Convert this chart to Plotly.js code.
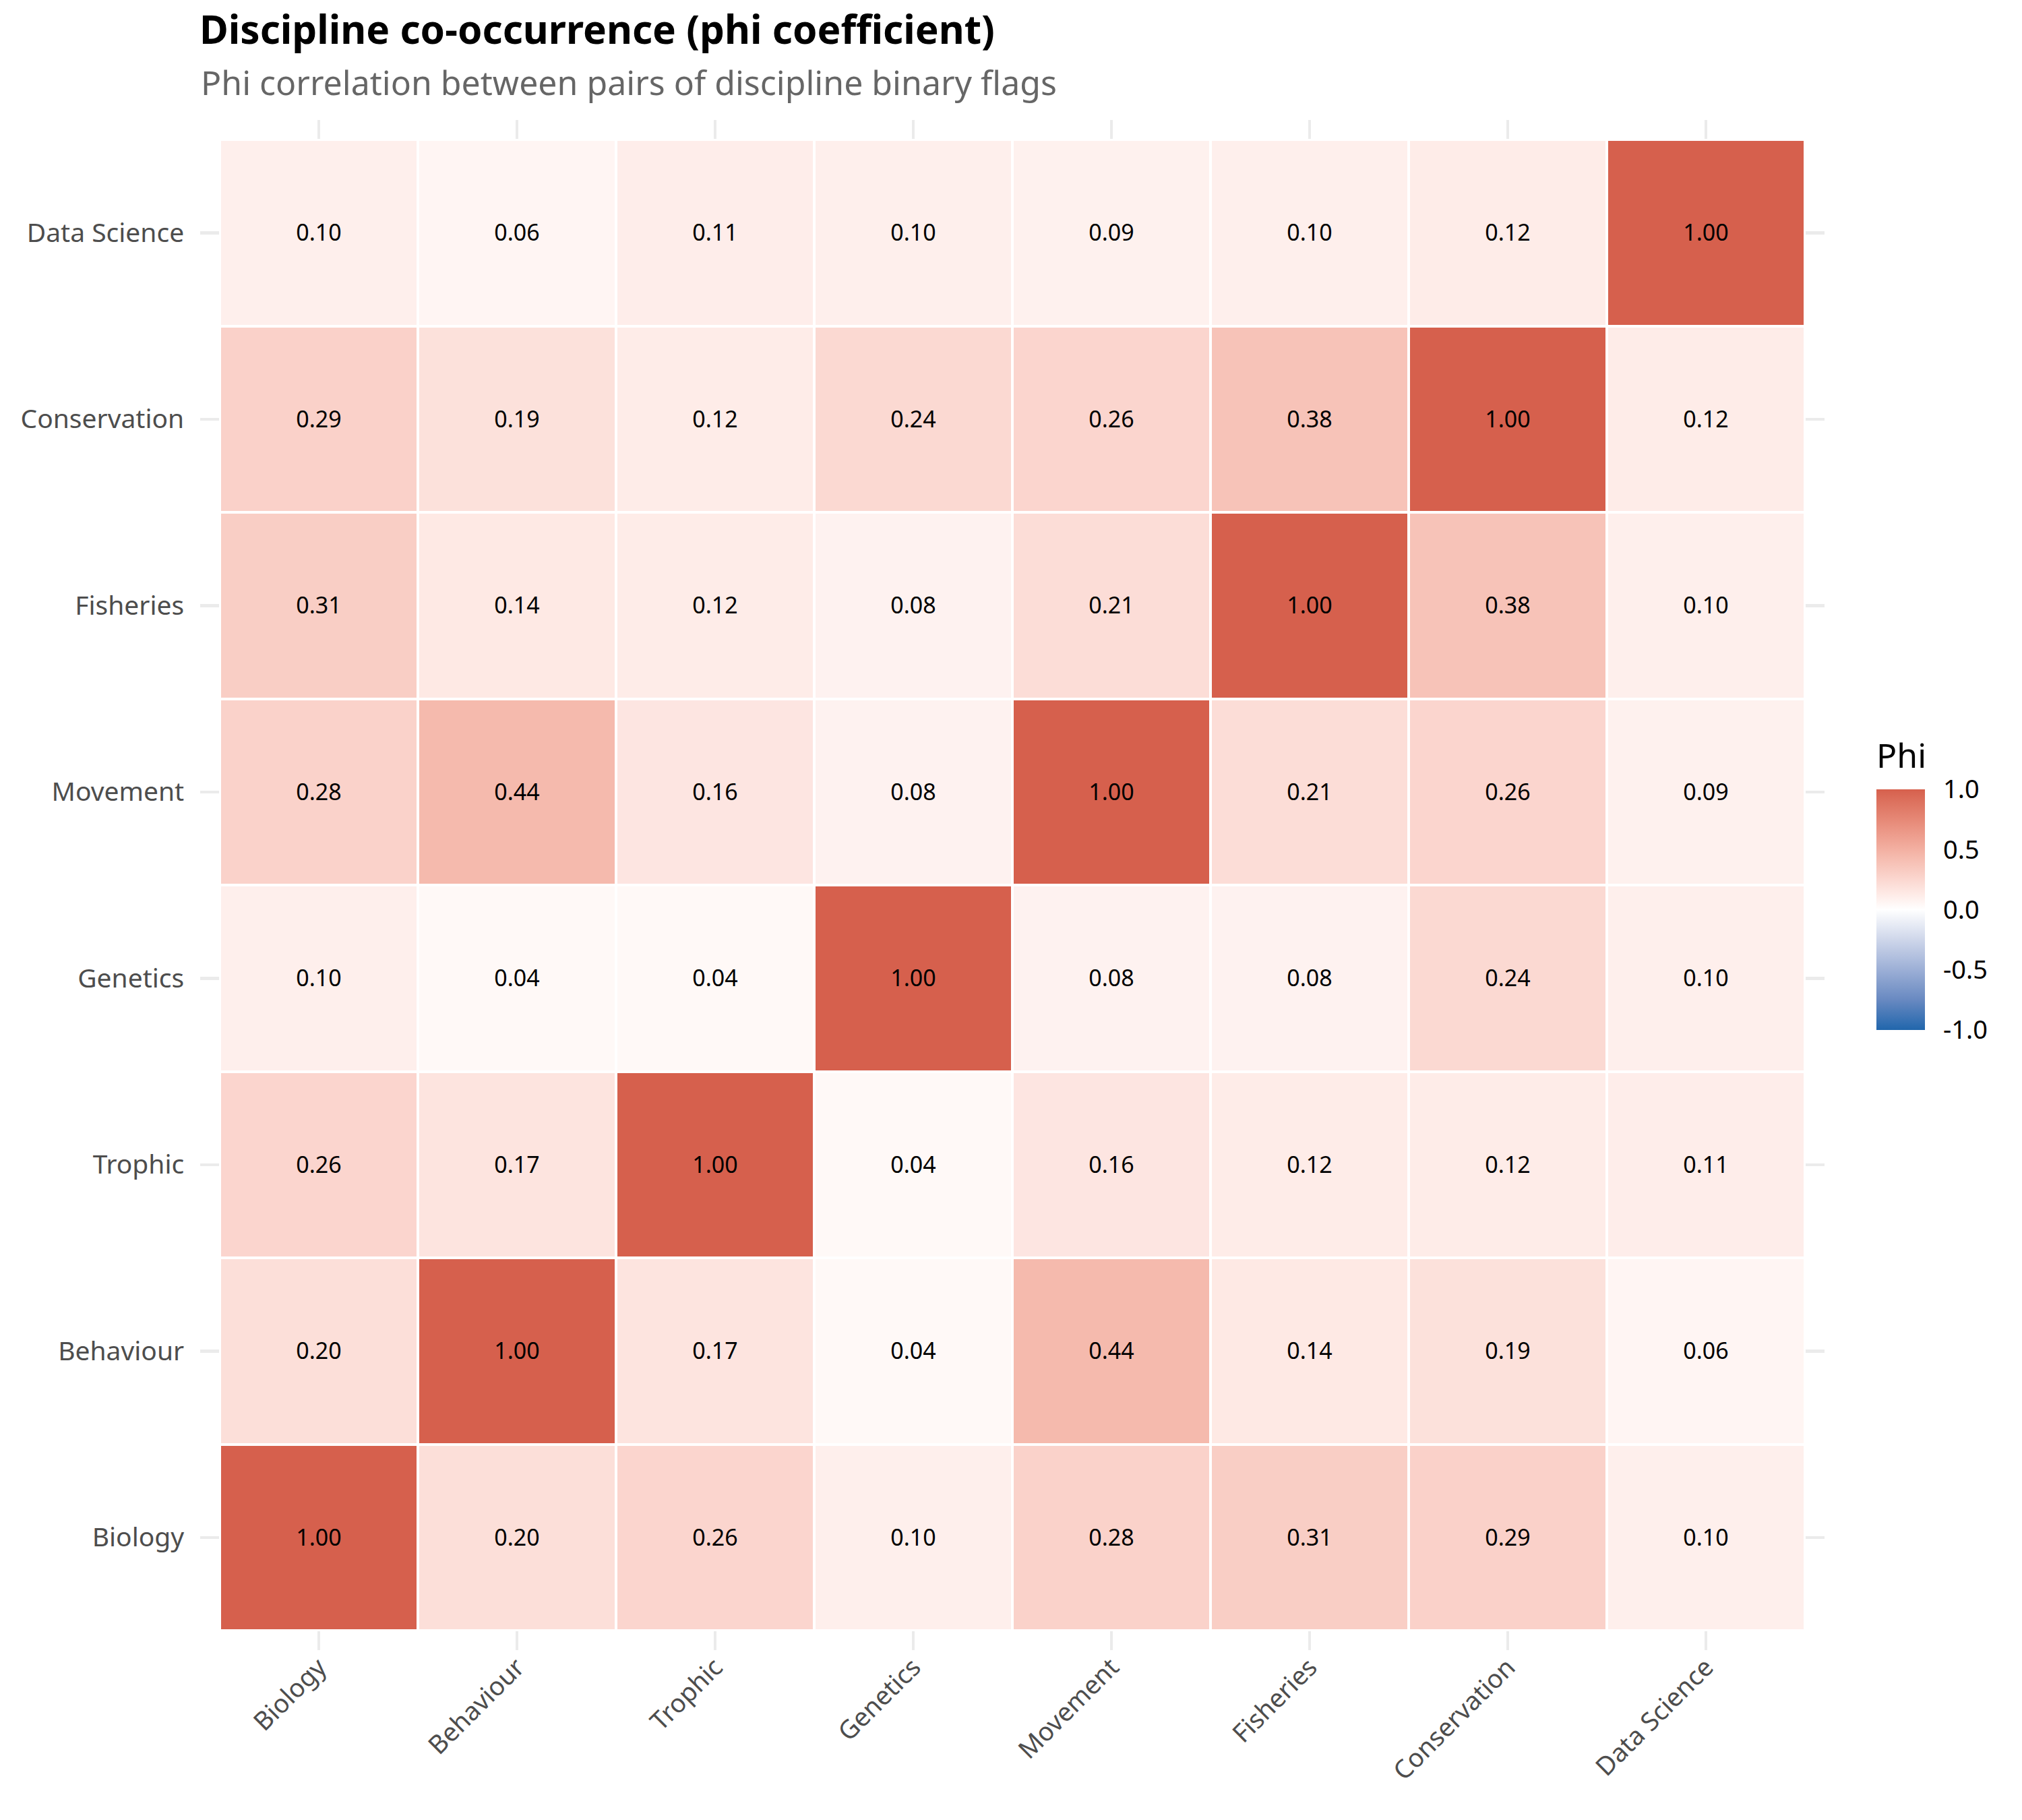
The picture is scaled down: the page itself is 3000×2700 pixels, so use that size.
<!DOCTYPE html>
<html>
<head>
<meta charset="utf-8">
<script src="https://cdn.plot.ly/plotly-3.0.1.min.js"></script>
<style>
  html, body { margin: 0; padding: 0; background: #ffffff; }
  #chart { width: 3000px; height: 2700px; }
</style>
</head>
<body>
<div id="chart"></div>
<script>
// Disciplines (x from left to right, y from bottom to top)
const disciplines = ["Biology", "Behaviour", "Trophic", "Genetics", "Movement", "Fisheries", "Conservation", "Data Science"];

// Phi values, one row per discipline (columns in the same order as disciplines)
const rowBiology      = [1.00, 0.20, 0.26, 0.10, 0.28, 0.31, 0.29, 0.10];
const rowBehaviour    = [0.20, 1.00, 0.17, 0.04, 0.44, 0.14, 0.19, 0.06];
const rowTrophic      = [0.26, 0.17, 1.00, 0.04, 0.16, 0.12, 0.12, 0.11];
const rowGenetics     = [0.10, 0.04, 0.04, 1.00, 0.08, 0.08, 0.24, 0.10];
const rowMovement     = [0.28, 0.44, 0.16, 0.08, 1.00, 0.21, 0.26, 0.09];
const rowFisheries    = [0.31, 0.14, 0.12, 0.08, 0.21, 1.00, 0.38, 0.10];
const rowConservation = [0.29, 0.19, 0.12, 0.24, 0.26, 0.38, 1.00, 0.12];
const rowDataScience  = [0.10, 0.06, 0.11, 0.10, 0.09, 0.10, 0.12, 1.00];

const legendTickVals = [-1, -0.5, 0, 0.5, 1];
const legendTickText = ["-1.0", "-0.5", "0.0", "0.5", "1.0"];

const titleText = "Discipline co-occurrence (phi coefficient)";
const subtitleText = "Phi correlation between pairs of discipline binary flags";
const legendTitle = "Phi";

const z = [rowBiology, rowBehaviour, rowTrophic, rowGenetics, rowMovement, rowFisheries, rowConservation, rowDataScience];

// diverging scale (blue - white - red), stops interpolated in Lab space
const colorscale = [
  [0.0,    "#2166AC"],
  [0.125,  "rgb(104,137,193)"],
  [0.25,   "rgb(156,175,214)"],
  [0.375,  "rgb(206,214,234)"],
  [0.5,    "#FFFFFF"],
  [0.5625, "rgb(254,235,231)"],
  [0.625,  "rgb(251,215,208)"],
  [0.6875, "rgb(247,196,185)"],
  [0.75,   "rgb(243,176,162)"],
  [0.8125, "rgb(237,156,140)"],
  [0.875,  "rgb(230,136,118)"],
  [0.9375, "rgb(222,117,98)"],
  [1.0,    "#D6604D"]
];

const FONT = "Noto Sans, Open Sans, DejaVu Sans, sans-serif";
const W = 3000, H = 2700;
const mL = 326, mR = 322, mT = 207, mB = 281;
const plotW = W - mL - mR, plotH = H - mT - mB;

const trace = {
  type: "heatmap",
  x: disciplines,
  y: disciplines,
  z: z,
  zmin: -1,
  zmax: 1,
  colorscale: colorscale,
  xgap: 4,
  ygap: 4,
  texttemplate: "%{z:.2f}",
  textfont: { family: FONT, size: 34, color: "#000000" },
  hoverinfo: "skip",
  colorbar: {
    title: { text: legendTitle, side: "top", font: { family: FONT, size: 50, color: "#000000" } },
    thickness: 72,
    thicknessmode: "pixels",
    len: 430,
    lenmode: "pixels",
    x: (2784 - mL) / plotW,
    xanchor: "left",
    xpad: 0,
    y: (H - mB - 1313) / plotH,
    yanchor: "middle",
    ypad: 0,
    outlinewidth: 0,
    tickvals: legendTickVals,
    ticktext: legendTickText,
    ticks: "outside",
    ticklen: 20,
    tickwidth: 2,
    tickcolor: "rgba(255,255,255,0)",
    tickfont: { family: FONT, size: 38, color: "#000000" }
  }
};

const layout = {
  width: W,
  height: H,
  paper_bgcolor: "#FFFFFF",
  plot_bgcolor: "#FFFFFF",
  margin: { l: mL, r: mR, t: mT, b: mB, pad: 0 },
  font: { family: FONT },
  title: {
    text: "<b>" + titleText + "</b>",
    font: { family: FONT, size: 58.5, color: "#000000" },
    xref: "container",
    x: 296 / W,
    xanchor: "left",
    yref: "container",
    y: 1 - 45 / H,
    yanchor: "middle"
  },
  annotations: [
    {
      text: subtitleText,
      xref: "paper",
      yref: "paper",
      x: (296 - mL) / plotW,
      y: 1 + (mT - 122) / plotH,
      xanchor: "left",
      yanchor: "middle",
      showarrow: false,
      font: { family: FONT, size: 50, color: "#666666" }
    }
  ],
  xaxis: {
    type: "category",
    range: [-0.5, 7.5],
    showgrid: false,
    zeroline: false,
    showline: false,
    ticks: "outside",
    ticklen: 28,
    tickwidth: 4.5,
    tickcolor: "#EBEBEB",
    mirror: "ticks",
    tickangle: -45,
    ticklabelstandoff: -12,
    tickfont: { family: FONT, size: 38, color: "#4D4D4D" },
    fixedrange: true
  },
  yaxis: {
    type: "category",
    range: [-0.5, 7.5],
    showgrid: false,
    zeroline: false,
    showline: false,
    ticks: "outside",
    ticklen: 28,
    tickwidth: 4.5,
    tickcolor: "#EBEBEB",
    mirror: "ticks",
    ticklabelstandoff: 16,
    tickfont: { family: FONT, size: 39, color: "#4D4D4D" },
    fixedrange: true
  }
};

Plotly.newPlot("chart", [trace], layout, { displayModeBar: false, staticPlot: true });
</script>
</body>
</html>
